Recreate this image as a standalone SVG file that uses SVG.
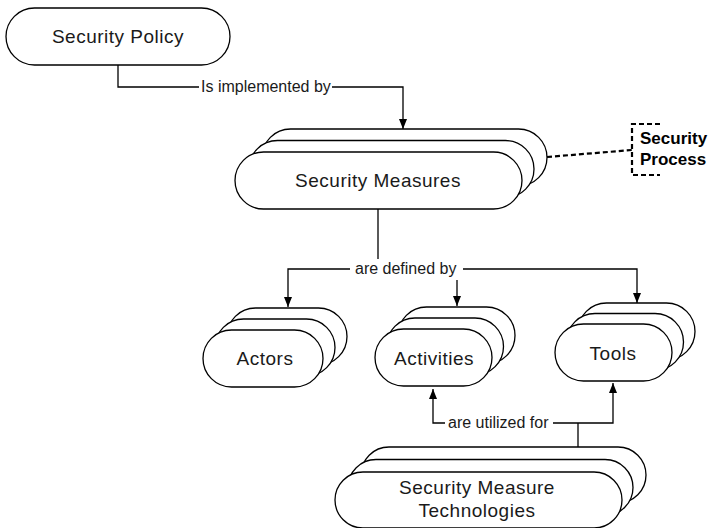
<svg xmlns="http://www.w3.org/2000/svg" width="710" height="528" viewBox="0 0 710 528">
  <defs>
    <marker id="arrow" viewBox="0 0 10 10" refX="10" refY="5" markerWidth="10" markerHeight="10" markerUnits="userSpaceOnUse" orient="auto">
      <path d="M0,1 L10,5 L0,9 Z" fill="#000"/>
    </marker>
  </defs>
  <style>
    .pill { fill: #fff; stroke: #000; stroke-width: 1.3; }
    .label { font-family: "Liberation Sans", Arial, sans-serif; font-size: 19px; letter-spacing: 0.5px; fill: #1a1a1a; text-anchor: middle; }
    .edge { font-family: "Liberation Sans", Arial, sans-serif; font-size: 16px; fill: #1a1a1a; }
    .conn { fill: none; stroke: #000; stroke-width: 1.3; }
    .arr { marker-end: url(#arrow); }
    .dash { fill: none; stroke: #000; stroke-width: 2.2; stroke-dasharray: 5 3; }
    .note { font-family: "Liberation Sans", Arial, sans-serif; font-size: 17px; font-weight: bold; fill: #000; }
  </style>
  <rect width="710" height="528" fill="#fff"/>

  <!-- connectors -->
  <g id="connectors">
    <path class="conn" d="M118,65 V87 H199"/>
    <text class="edge" x="201" y="92">Is implemented by</text>
    <path class="conn arr" d="M332,87 H403 V129"/>

    <path class="conn" d="M378,209 V259"/>
    <path class="conn arr" d="M350,269 H288 V307"/>
    <text class="edge" x="355" y="274">are defined by</text>
    <path class="conn arr" d="M463,269 H637 V303"/>
    <path class="conn arr" d="M457,280 V306"/>

    <path class="conn arr" d="M445,423 H433 V389"/>
    <text class="edge" x="448" y="428">are utilized for</text>
    <path class="conn arr" d="M553,423 H613 V383"/>
    <path class="conn" d="M578,423 V447"/>

    <path class="dash" d="M547,157 L632,150"/>
    <path class="dash" d="M660,124 H632 V175 H660"/>
  </g>

  <g id="security-policy">
    <rect class="pill" x="6" y="8" width="224" height="57" rx="28.5"/>
    <text class="label" x="118" y="43">Security Policy</text>
  </g>

  <g id="security-measures">
    <rect class="pill" x="262" y="129" width="285" height="57" rx="28.5"/>
    <rect class="pill" x="249" y="140.5" width="285" height="57" rx="28.5"/>
    <rect class="pill" x="235" y="152" width="287" height="57" rx="28.5"/>
    <text class="label" x="378" y="187">Security Measures</text>
  </g>

  <g id="security-process">
    <text class="note" x="640" y="144">Security</text>
    <text class="note" x="640" y="165">Process</text>
  </g>

  <g id="actors">
    <rect class="pill" x="227" y="308" width="120" height="57" rx="28.5"/>
    <rect class="pill" x="215" y="319" width="120" height="57" rx="28.5"/>
    <rect class="pill" x="203" y="330" width="120" height="57" rx="28.5"/>
    <text class="label" x="265" y="365">Actors</text>
  </g>

  <g id="activities">
    <rect class="pill" x="398" y="307" width="117" height="57" rx="28.5"/>
    <rect class="pill" x="386.5" y="318" width="117" height="57" rx="28.5"/>
    <rect class="pill" x="375" y="329" width="117" height="57" rx="28.5"/>
    <text class="label" x="434" y="365">Activities</text>
  </g>

  <g id="tools">
    <rect class="pill" x="578" y="303" width="117" height="57" rx="28.5"/>
    <rect class="pill" x="566.5" y="313.5" width="117" height="57" rx="28.5"/>
    <rect class="pill" x="555" y="324" width="117" height="57" rx="28.5"/>
    <text class="label" x="613" y="360">Tools</text>
  </g>

  <g id="security-measure-technologies">
    <rect class="pill" x="361" y="447" width="285" height="56" rx="28"/>
    <rect class="pill" x="348" y="459.5" width="285" height="56" rx="28"/>
    <rect class="pill" x="335" y="472" width="287" height="56" rx="28"/>
    <text class="label" x="477" y="494">Security Measure</text>
    <text class="label" x="477" y="517">Technologies</text>
  </g>
</svg>
